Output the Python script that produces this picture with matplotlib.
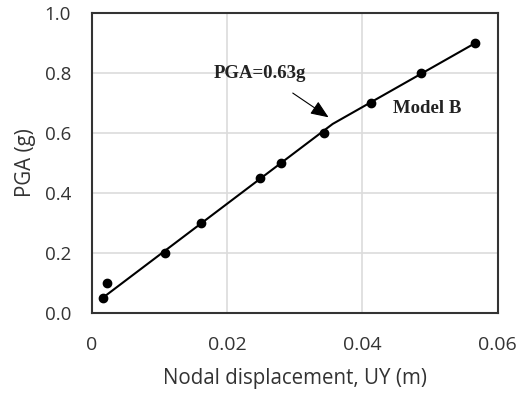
import matplotlib
matplotlib.use("Agg")
import matplotlib.pyplot as plt
from matplotlib.ticker import FixedLocator, FixedFormatter

# data
disp = [0.0016, 0.0023, 0.0108, 0.0161, 0.0248, 0.0280, 0.0343, 0.0412, 0.0486, 0.0567]
pga = [0.05, 0.10, 0.20, 0.30, 0.45, 0.50, 0.60, 0.70, 0.80, 0.90]
fit_disp = [0.0016, 0.0356, 0.0567]
fit_pga = [0.05, 0.63, 0.90]
xticks = [0, 0.02, 0.04, 0.06]
xticklabels = ["0", "0.02", "0.04", "0.06"]
yticks = [0.0, 0.2, 0.4, 0.6, 0.8, 1.0]
yticklabels = ["0.0", "0.2", "0.4", "0.6", "0.8", "1.0"]

fig = plt.figure(figsize=(5.19, 3.94), dpi=100)
ax = fig.add_axes([0.177, 0.206, 0.782, 0.761])

ax.plot(fit_disp, fit_pga, color="black", lw=1.5, zorder=3)
ax.plot(disp, pga, linestyle="none", marker="o", ms=6, color="black", zorder=4)

ax.set_xlim(0, 0.06)
ax.set_ylim(0, 1.0)
ax.xaxis.set_major_locator(FixedLocator(xticks))
ax.xaxis.set_major_formatter(FixedFormatter(xticklabels))
ax.yaxis.set_major_locator(FixedLocator(yticks))
ax.yaxis.set_major_formatter(FixedFormatter(yticklabels))
ax.grid(True, color="#dcdcdc", lw=1.2)
ax.set_axisbelow(True)
ax.tick_params(axis="x", length=0, pad=17, labelsize=14, colors="#333333")
ax.tick_params(axis="y", length=0, pad=15, labelsize=13.5, colors="#333333")
for lab in ax.get_xticklabels() + ax.get_yticklabels():
    lab.set_family("Open Sans")
for s in ax.spines.values():
    s.set_color("#333333")
    s.set_linewidth(1.5)

ax.set_xlabel("Nodal displacement, UY (m)", fontsize=14.8, family="Open Sans",
              color="#333333", labelpad=10)
ax.set_ylabel("PGA (g)", fontsize=14.8, family="Open Sans", color="#333333", labelpad=6)

ax.annotate("", xy=(0.0350, 0.652), xytext=(0.0297, 0.733),
            arrowprops=dict(arrowstyle="-|>,head_length=1.1,head_width=0.45",
                            color="black", lw=0.8, shrinkA=0, shrinkB=0),
            zorder=5)
ax.text(0.0249, 0.797, "PGA=0.63g", family="Liberation Serif", fontweight="bold",
        fontsize=13.5, ha="center", va="center", color="#222222")
ax.text(0.0495, 0.683, "Model B", family="Liberation Serif", fontweight="bold",
        fontsize=13.5, ha="center", va="center", color="#222222")

fig.savefig("out.png", dpi=100)
